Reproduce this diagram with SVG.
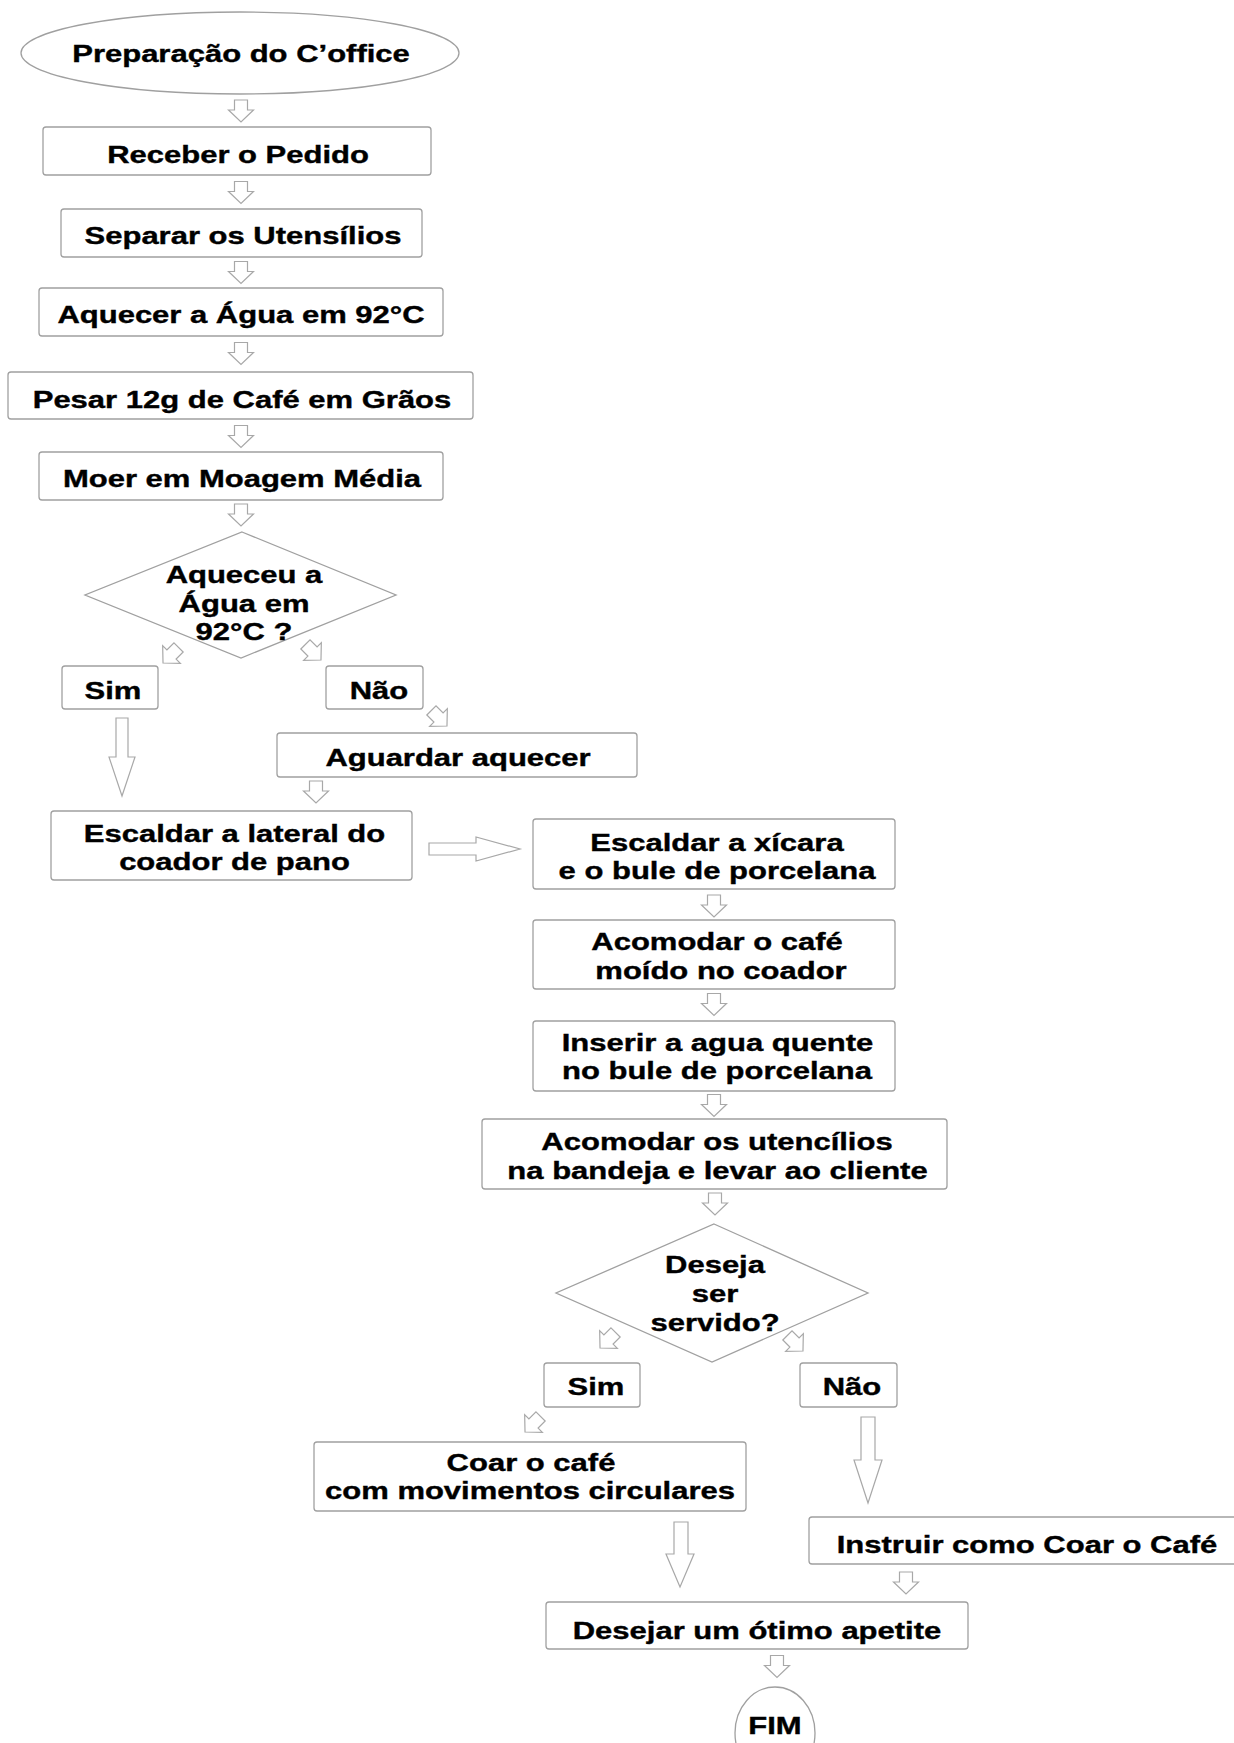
<svg xmlns="http://www.w3.org/2000/svg" xmlns:xlink="http://www.w3.org/1999/xlink" width="1234" height="1743" viewBox="0 0 1234 1743">
<style>
.bx{fill:#fff;stroke:#a0a0a0;stroke-width:1.3}
.ar{fill:#fff;stroke:#a8a8a8;stroke-width:1.2;stroke-linejoin:miter}
.t{font-family:"Liberation Sans",Arial,Helvetica,sans-serif;font-weight:bold;font-size:31px;fill:#000;stroke:#000;stroke-width:0.5;text-anchor:middle}
</style>
<defs>
<path id="sa" class="ar" d="M-6.5,-11 H6.5 V-1 H12.5 L0,11 L-12.5,-1 H-6.5 Z"/>
</defs>
<rect width="1234" height="1743" fill="#fff"/>

<g id="connectors">
<use xlink:href="#sa" href="#sa" transform="translate(241,111)"/>
<use xlink:href="#sa" href="#sa" transform="translate(241,192.5)"/>
<use xlink:href="#sa" href="#sa" transform="translate(241,272.5)"/>
<use xlink:href="#sa" href="#sa" transform="translate(241,353.5)"/>
<use xlink:href="#sa" href="#sa" transform="translate(241,436.5)"/>
<use xlink:href="#sa" href="#sa" transform="translate(241,515)"/>
<use xlink:href="#sa" href="#sa" transform="translate(170.8,655.2) rotate(45)"/>
<use xlink:href="#sa" href="#sa" transform="translate(313.2,652.2) rotate(-45)"/>
<use xlink:href="#sa" href="#sa" transform="translate(439.2,718.2) rotate(-45)"/>
<path class="ar" d="M116,718 H128 V757 H135 L122,796 L109,757 H116 Z"/>
<use xlink:href="#sa" href="#sa" transform="translate(316,792)"/>
<path class="ar" d="M429,843 H476 V837 L520,849 L476,861 V855 H429 Z"/>
<use xlink:href="#sa" href="#sa" transform="translate(714,906)"/>
<use xlink:href="#sa" href="#sa" transform="translate(714,1004.5)"/>
<use xlink:href="#sa" href="#sa" transform="translate(714,1105.5)"/>
<use xlink:href="#sa" href="#sa" transform="translate(715,1204)"/>
<use xlink:href="#sa" href="#sa" transform="translate(607.8,1340.2) rotate(45)"/>
<use xlink:href="#sa" href="#sa" transform="translate(795.2,1343.2) rotate(-45)"/>
<use xlink:href="#sa" href="#sa" transform="translate(532.8,1424.2) rotate(45)"/>
<path class="ar" d="M861,1417 H875 V1460 H882 L868,1503 L854,1460 H861 Z"/>
<path class="ar" d="M674,1522 H688 V1554 H694 L680,1587 L666,1554 H674 Z"/>
<use xlink:href="#sa" href="#sa" transform="translate(906,1583)"/>
<use xlink:href="#sa" href="#sa" transform="translate(777,1666.5)"/>
</g>

<g id="start">
<ellipse class="bx" cx="240" cy="53" rx="219" ry="41"/>
<text class="t" transform="translate(241,62) scale(1,0.77)">Preparação do C’office</text>
</g>
<g id="receber">
<rect class="bx" x="43" y="127" width="388" height="48" rx="3"/>
<text class="t" transform="translate(238,163) scale(1,0.77)">Receber o Pedido</text>
</g>
<g id="separar">
<rect class="bx" x="61" y="209" width="361" height="48" rx="3"/>
<text class="t" transform="translate(243,244) scale(1,0.77)">Separar os Utensílios</text>
</g>
<g id="aquecer">
<rect class="bx" x="39" y="288" width="404" height="48" rx="3"/>
<text class="t" transform="translate(241,323) scale(1,0.77)">Aquecer a Água em 92°C</text>
</g>
<g id="pesar">
<rect class="bx" x="8" y="372" width="465" height="47" rx="3"/>
<text class="t" transform="translate(242,408) scale(1,0.77)">Pesar 12g de Café em Grãos</text>
</g>
<g id="moer">
<rect class="bx" x="39" y="452" width="404" height="48" rx="3"/>
<text class="t" transform="translate(242,487) scale(1,0.77)">Moer em Moagem Média</text>
</g>
<g id="decisao1">
<polygon class="bx" points="242,532 396,595 241,658 85,595"/>
<text class="t" transform="translate(244,583) scale(1,0.77)">Aqueceu a</text>
<text class="t" transform="translate(244,612) scale(1,0.77)">Água em</text>
<text class="t" transform="translate(244,640) scale(1,0.77)">92°C ?</text>
</g>
<g id="sim1">
<rect class="bx" x="62" y="666" width="96" height="43" rx="3"/>
<text class="t" transform="translate(113,699) scale(1,0.77)">Sim</text>
</g>
<g id="nao1">
<rect class="bx" x="326" y="666" width="97" height="43" rx="3"/>
<text class="t" transform="translate(379,699) scale(1,0.77)">Não</text>
</g>
<g id="aguardar">
<rect class="bx" x="277" y="733" width="360" height="44" rx="3"/>
<text class="t" transform="translate(458,766) scale(1,0.77)">Aguardar aquecer</text>
</g>
<g id="escaldar-lateral">
<rect class="bx" x="51" y="811" width="361" height="69" rx="3"/>
<text class="t" transform="translate(234.5,842) scale(1,0.77)">Escaldar a lateral do</text>
<text class="t" transform="translate(234.5,870) scale(1,0.77)">coador de pano</text>
</g>
<g id="escaldar-xicara">
<rect class="bx" x="533" y="819" width="362" height="70" rx="3"/>
<text class="t" transform="translate(717,851) scale(1,0.77)">Escaldar a xícara</text>
<text class="t" transform="translate(717,879) scale(1,0.77)">e o bule de porcelana</text>
</g>
<g id="acomodar-cafe">
<rect class="bx" x="533" y="920" width="362" height="69" rx="3"/>
<text class="t" transform="translate(717,950) scale(1,0.77)">Acomodar o café</text>
<text class="t" transform="translate(721,979) scale(1,0.77)">moído no coador</text>
</g>
<g id="inserir">
<rect class="bx" x="533" y="1021" width="362" height="70" rx="3"/>
<text class="t" transform="translate(717.5,1051) scale(1,0.77)">Inserir a agua quente</text>
<text class="t" transform="translate(717,1079) scale(1,0.77)">no bule de porcelana</text>
</g>
<g id="acomodar-utencilios">
<rect class="bx" x="482" y="1119" width="465" height="70" rx="3"/>
<text class="t" transform="translate(717,1150) scale(1,0.77)">Acomodar os utencílios</text>
<text class="t" transform="translate(717.5,1179) scale(1,0.77)">na bandeja e levar ao cliente</text>
</g>
<g id="decisao2">
<polygon class="bx" points="714,1224 868,1293 712,1362 556,1293"/>
<text class="t" transform="translate(715,1273) scale(1,0.77)">Deseja</text>
<text class="t" transform="translate(715,1302) scale(1,0.77)">ser</text>
<text class="t" transform="translate(715,1331) scale(1,0.77)">servido?</text>
</g>
<g id="sim2">
<rect class="bx" x="544" y="1363" width="96" height="44" rx="3"/>
<text class="t" transform="translate(596,1395) scale(1,0.77)">Sim</text>
</g>
<g id="nao2">
<rect class="bx" x="800" y="1363" width="97" height="44" rx="3"/>
<text class="t" transform="translate(852,1395) scale(1,0.77)">Não</text>
</g>
<g id="coar">
<rect class="bx" x="314" y="1442" width="432" height="69" rx="3"/>
<text class="t" transform="translate(531,1471) scale(1,0.77)">Coar o café</text>
<text class="t" transform="translate(530,1499) scale(1,0.77)">com movimentos circulares</text>
</g>
<g id="instruir">
<rect class="bx" x="809" y="1517" width="440" height="47" rx="3"/>
<text class="t" transform="translate(1027,1553) scale(1,0.77)">Instruir como Coar o Café</text>
</g>
<g id="desejar">
<rect class="bx" x="546" y="1602" width="422" height="47" rx="3"/>
<text class="t" transform="translate(757,1639) scale(1,0.77)">Desejar um ótimo apetite</text>
</g>
<g id="fim">
<ellipse class="bx" cx="775" cy="1733" rx="40" ry="46"/>
<text class="t" transform="translate(775,1734) scale(1,0.77)">FIM</text>
</g>
</svg>
